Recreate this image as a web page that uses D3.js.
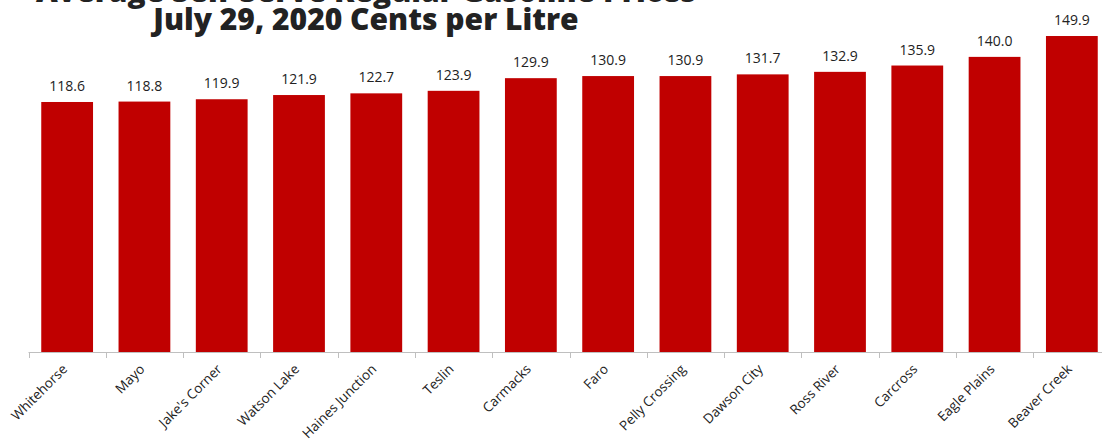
<!DOCTYPE html>
<html>
<head>
<meta charset="utf-8">
<script src="https://cdn.jsdelivr.net/npm/d3@7"></script>
<style>
  body { margin: 0; background: #fff; }
  svg { display: block; }
  .title { font-family: "Open Sans", sans-serif; font-weight: 800; font-size: 30px; fill: #222; }
  .val { font-family: "Open Sans", sans-serif; font-size: 14px; fill: #222; }
  .cat { font-family: "Open Sans", sans-serif; font-size: 13.5px; fill: #222; }
</style>
</head>
<body>
<svg width="1102" height="442"></svg>
<script>
const communities = ["Whitehorse", "Mayo", "Jake's Corner", "Watson Lake", "Haines Junction", "Teslin",
  "Carmacks", "Faro", "Pelly Crossing", "Dawson City", "Ross River", "Carcross", "Eagle Plains", "Beaver Creek"];
const prices = [118.6, 118.8, 119.9, 121.9, 122.7, 123.9, 129.9, 130.9, 130.9, 131.7, 132.9, 135.9, 140.0, 149.9];
const titleLines = ["Average Self-Serve Regular Gasoline Prices", "July 29, 2020 Cents per Litre"];

const svg = d3.select("svg"),
  baseY = 352,
  left = 28.5,
  right = 1110.5;

const x = d3.scaleBand().domain(communities).range([left, right]).paddingInner(0.33).paddingOuter(0.165);
const y = d3.scaleLinear().domain([0, 160]).range([baseY, baseY - 160 * 2.108]);

// title (top line is cut off by the frame)
svg.selectAll(".title")
  .data(titleLines)
  .enter().append("text")
  .attr("class", "title")
  .attr("x", 366)
  .attr("y", (d, i) => 2 + i * 28)
  .attr("text-anchor", "middle")
  .text(d => d);

// bars
svg.append("g")
  .selectAll("rect")
  .data(prices)
  .enter().append("rect")
  .attr("x", (d, i) => x(communities[i]))
  .attr("y", d => y(d))
  .attr("width", x.bandwidth())
  .attr("height", d => baseY - y(d))
  .attr("fill", "#C00000");

// value labels
svg.append("g")
  .selectAll("text")
  .data(prices)
  .enter().append("text")
  .attr("class", "val")
  .attr("x", (d, i) => x(communities[i]) + x.bandwidth() / 2)
  .attr("y", d => y(d) - 11)
  .attr("text-anchor", "middle")
  .text(d => d.toFixed(1));

// x axis: ticks sit between categories
const step = x.step();
const ticks = d3.range(communities.length + 1).map(i => left + i * step);
const axis = svg.append("g");
axis.append("line")
  .attr("x1", left).attr("x2", 1102)
  .attr("y1", baseY + 0.5).attr("y2", baseY + 0.5)
  .attr("stroke", "#bfbfbf").attr("stroke-width", 1.2);
axis.selectAll(".tick")
  .data(ticks)
  .enter().append("line")
  .attr("x1", d => Math.round(d) + 0.5).attr("x2", d => Math.round(d) + 0.5)
  .attr("y1", baseY).attr("y2", baseY + 6)
  .attr("stroke", "#bfbfbf");

axis.selectAll(".cat")
  .data(communities)
  .enter().append("text")
  .attr("class", "cat")
  .attr("text-anchor", "end")
  .attr("transform", d => "translate(" + (x(d) + x.bandwidth() / 2 + 1) + "," + (baseY + 18) + ") rotate(-45)")
  .text(d => d);
</script>
</body>
</html>
